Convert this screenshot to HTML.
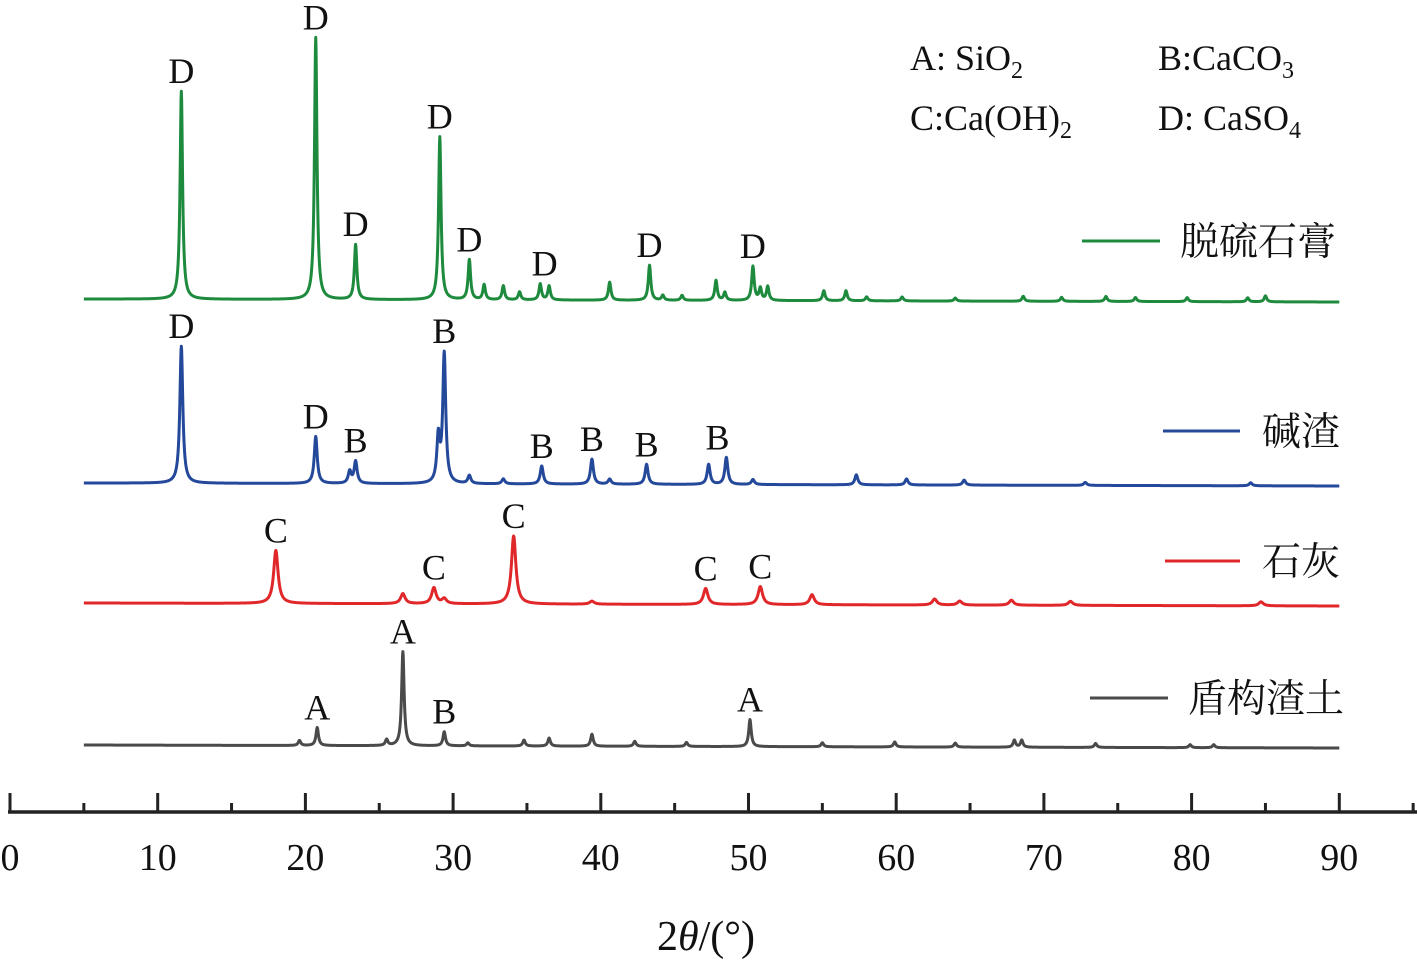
<!DOCTYPE html>
<html><head><meta charset="utf-8">
<style>
html,body{margin:0;padding:0;background:#fff;}
svg text{font-family:"Liberation Serif","Noto Serif CJK SC",serif;}
</style></head>
<body>
<svg id="chart" width="1417" height="964" viewBox="0 0 1417 964" xmlns="http://www.w3.org/2000/svg">
<g id="axis"></g>
<g id="series"></g>
<g id="labels"></g>
<g font-size="36" fill="#111">
<text x="910" y="70">A: SiO<tspan font-size="24" dy="8">2</tspan></text>
<text x="1158" y="70">B:CaCO<tspan font-size="24" dy="8">3</tspan></text>
<text x="910" y="130">C:Ca(OH)<tspan font-size="24" dy="8">2</tspan></text>
<text x="1158" y="130">D: CaSO<tspan font-size="24" dy="8">4</tspan></text>
</g>
<g font-size="39" fill="#111">
<line x1="1082" y1="241" x2="1160" y2="241" stroke="#1e8a3e" stroke-width="3"/>
<text x="1180" y="255">脱硫石膏</text>
<line x1="1163" y1="431" x2="1240" y2="431" stroke="#24489a" stroke-width="3"/>
<text x="1262" y="445">碱渣</text>
<line x1="1165" y1="561" x2="1240" y2="561" stroke="#e0282a" stroke-width="3"/>
<text x="1262" y="575">石灰</text>
<line x1="1090" y1="698" x2="1168" y2="698" stroke="#4a4a4a" stroke-width="3"/>
<text x="1188" y="712">盾构渣土</text>
</g>
<text x="706" y="950" font-size="42" text-anchor="middle" fill="#111">2<tspan font-style="italic">θ</tspan>/(°)</text>
</svg>
<script>
const xTicks=[0,10,20,30,40,50,60,70,80,90];
const gPos=[11.6,20.7,23.4,29.1,31.1,32.1,33.4,34.5,35.9,36.5,40.6,43.3,44.2,45.5,47.8,48.4,50.3,50.8,51.3,55.1,56.6,58,60.4,64,68.6,71.2,74.2,76.2,79.7,83.8,85];
const gVal=[208,262,55,163,40,15,14,8,16,14,18,35,5,5,20,8,34,12,14,10,10,4,4,3,5,4,5,4,4,4,6];
const bPos=[11.6,20.7,23.0,23.4,29.0,29.4,31.1,33.4,36.0,39.4,40.6,43.1,47.3,48.5,50.3,57.3,60.7,64.6,72.8,84];
const bVal=[137,47,12,22,45,129,8,5,18,25,5,20,20,27,5,10,6,5,3,3];
const rPos=[18.0,26.6,28.7,29.4,34.1,39.4,47.1,50.8,54.3,62.6,64.3,67.8,71.8,84.7];
const rVal=[53,10,16,5,68,3,16,18,10,6,4,5,4,4];
const sPos=[19.6,20.8,25.5,26.6,29.4,31,34.8,36.5,39.4,42.3,45.8,50.1,55,59.9,64,68,68.5,73.5,79.9,81.5];
const sVal=[5,18,6,94,14,3,6,8,12,5,4,27,4,5,4,7,7,4,3,3];
const gLab=[[11.6,"D"],[20.7,"D"],[23.4,"D"],[29.1,"D"],[31.1,"D"],[36.2,"D"],[43.3,"D"],[50.3,"D"]];
const bLab=[[11.6,"D"],[20.7,"D"],[23.4,"B"],[29.4,"B"],[36.0,"B"],[39.4,"B"],[43.1,"B"],[47.9,"B"]];
const rLab=[[18.0,"C"],[28.7,"C"],[34.1,"C"],[47.1,"C"],[50.8,"C"]];
const sLab=[[20.8,"A"],[26.6,"A"],[29.4,"B"],[50.1,"A"]];

const NS="http://www.w3.org/2000/svg";
const X=v=>10+v*14.77;
const axis=document.getElementById('axis');
function mk(tag,attrs,parent){const e=document.createElementNS(NS,tag);for(const k in attrs)e.setAttribute(k,attrs[k]);parent.appendChild(e);return e;}
const al=mk('line',{x1:8,y1:812,x2:1417,y2:812,stroke:'#222','stroke-width':3.5},axis);


for(let v=0;v<=95;v+=5){
  const major=v%10===0;
  const t=mk('line',{x1:X(v),x2:X(v),y1:major?793:803,y2:812,stroke:'#222','stroke-width':3},axis);
  
  
}
xTicks.forEach(v=>{
  const t=mk('text',{x:X(v),y:870,'font-size':38,'text-anchor':'middle',fill:'#111'},axis);
  t.textContent=v;
  
  
});
const series=document.getElementById('series');
const labels=document.getElementById('labels');
function intensity(x,pos,val,w){let s=0;for(let i=0;i<pos.length;i++){const d=(x-pos[i])/w;s+=val[i]/(1+d*d);}return s;}
function draw(name,pos,val,base0,base1,w,color,labs){
  let d='';
  for(let x=5;x<=90.001;x+=0.02){
    const b=base0+(base1-base0)*(x-5)/85;
    const y=b-intensity(x,pos,val,w);
    d+=(d?'L':'M')+X(x).toFixed(2)+','+y.toFixed(2);
  }
  const p=mk('path',{d:d,fill:'none',stroke:color,'stroke-width':3,'stroke-linejoin':'round'},series);
  
  
  labs.forEach(([x,l])=>{
    let top=1e9;
    for(let dx=-0.7;dx<=0.7;dx+=0.02){const bb=base0+(base1-base0)*(x+dx-5)/85;top=Math.min(top,bb-intensity(x+dx,pos,val,w));}
    const t=mk('text',{x:X(x),y:top-8,'font-size':36,'text-anchor':'middle',fill:'#111'},labels);
    t.textContent=l;
    
    
  });
}
draw('series-gypsum',gPos,gVal,299,302,0.1,'#1e8a3e',gLab);
draw('series-soda-residue',bPos,bVal,483,486,0.12,'#24489a',bLab);
draw('series-lime',rPos,rVal,603,606,0.18,'#e0282a',rLab);
draw('series-shield-soil',sPos,sVal,745,748,0.1,'#4a4a4a',sLab);
</script>
</body></html>
